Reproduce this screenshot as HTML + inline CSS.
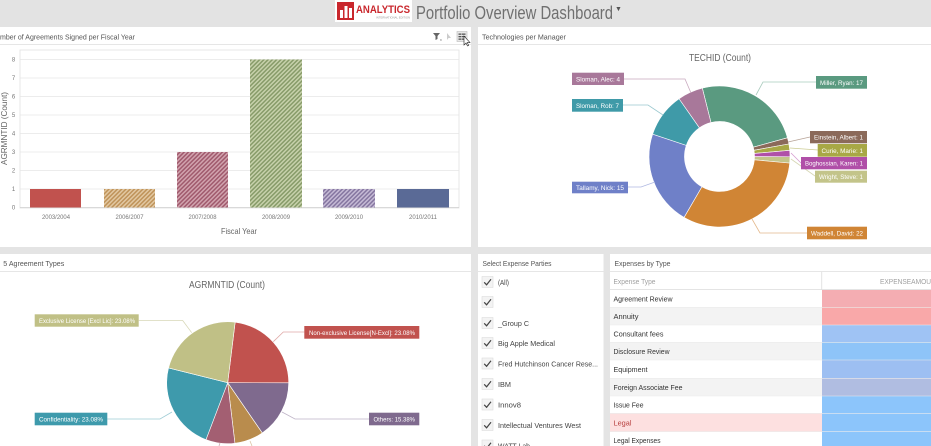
<!DOCTYPE html>
<html><head><meta charset="utf-8"><style>
html,body{margin:0;padding:0;width:931px;height:446px;overflow:hidden;background:#e4e4e4}
svg{display:block;font-family:"Liberation Sans",sans-serif}
</style></head><body>
<svg width="931" height="446" viewBox="0 0 931 446" xmlns="http://www.w3.org/2000/svg">
<defs>
<pattern id="h1" patternUnits="userSpaceOnUse" width="3" height="3" patternTransform="rotate(45)"><rect width="3" height="3" fill="#e2c8a2"/><rect width="1.5" height="3" fill="#bf935a"/></pattern>
<pattern id="h2" patternUnits="userSpaceOnUse" width="3" height="3" patternTransform="rotate(45)"><rect width="3" height="3" fill="#d1a3ae"/><rect width="1.5" height="3" fill="#a05a6d"/></pattern>
<pattern id="h3" patternUnits="userSpaceOnUse" width="3" height="3" patternTransform="rotate(45)"><rect width="3" height="3" fill="#c7d1ab"/><rect width="1.5" height="3" fill="#879b69"/></pattern>
<pattern id="h4" patternUnits="userSpaceOnUse" width="3" height="3" patternTransform="rotate(45)"><rect width="3" height="3" fill="#c5bad5"/><rect width="1.5" height="3" fill="#8576a0"/></pattern>
</defs>

<!-- header -->
<rect x="0" y="0" width="931" height="27" fill="#e3e3e3"/>
<rect x="335" y="0" width="77" height="22" fill="#fff"/>
<rect x="337" y="2" width="17" height="18" fill="#c9272d"/>
<rect x="340" y="10" width="3" height="8" fill="#fff"/>
<rect x="344.5" y="6" width="3" height="12" fill="#fff"/>
<rect x="349" y="8" width="3" height="10" fill="#fff"/>
<text x="356" y="13" font-size="11" font-weight="bold" fill="#c9272d" textLength="54" lengthAdjust="spacingAndGlyphs">ANALYTICS</text>
<text x="376" y="18.5" font-size="3" fill="#999" textLength="34" lengthAdjust="spacingAndGlyphs">INTERNATIONAL EDITION</text>
<text x="416" y="19" font-size="18" fill="#707070" textLength="197" lengthAdjust="spacingAndGlyphs">Portfolio Overview Dashboard</text>
<text x="615" y="11" font-size="7" fill="#555">▼</text>

<!-- panel 1 -->
<rect x="0" y="27" width="471" height="220" fill="#fff"/>
<line x1="0" y1="44.5" x2="471" y2="44.5" stroke="#e6e6e6"/>
<text x="0" y="39.5" font-size="7.6" fill="#555" textLength="135" lengthAdjust="spacingAndGlyphs">mber of Agreements Signed per Fiscal Year</text>
<!-- icons -->
<path d="M433 33 h7 l-2.5 3 v3 l-2 1 v-4 z" fill="#666"/>
<text x="440" y="41" font-size="3.5" fill="#666">x</text>
<path d="M447 33 v7 l1.5-2 h2.5 z" fill="#ccc"/>
<rect x="457" y="31.5" width="10" height="10" fill="#e8e8e8" stroke="#bbb" stroke-width="0.6"/>
<rect x="458.5" y="33.5" width="3" height="1.3" fill="#555"/><rect x="462" y="33.5" width="3.5" height="1.3" fill="#555"/>
<rect x="458.5" y="36" width="3" height="1.3" fill="#555"/><rect x="462" y="36" width="3.5" height="1.3" fill="#555"/>
<rect x="458.5" y="38.5" width="3" height="1.3" fill="#555"/><rect x="462" y="38.5" width="3.5" height="1.3" fill="#555"/>
<path d="M464 36 v9 l2-2 l1.5 3 l1.2-0.6 l-1.5-2.8 h2.8 z" fill="#fff" stroke="#222" stroke-width="0.6"/>

<!-- bar chart grid -->
<rect x="20" y="50" width="439" height="158" fill="none" stroke="#e2e2e2" stroke-width="0.8"/>
<g stroke="#e6e6e6" stroke-width="0.8">
<line x1="20" y1="59.5" x2="459" y2="59.5"/>
<line x1="20" y1="78" x2="459" y2="78"/>
<line x1="20" y1="96.5" x2="459" y2="96.5"/>
<line x1="20" y1="115" x2="459" y2="115"/>
<line x1="20" y1="133.5" x2="459" y2="133.5"/>
<line x1="20" y1="152" x2="459" y2="152"/>
<line x1="20" y1="170.5" x2="459" y2="170.5"/>
<line x1="20" y1="189" x2="459" y2="189"/>
</g>
<line x1="20" y1="207.5" x2="459" y2="207.5" stroke="#d0d0d0" stroke-width="0.8"/>
<g font-size="6" fill="#777" text-anchor="middle">
<text x="13.5" y="61.5">8</text><text x="13.5" y="80">7</text><text x="13.5" y="98.5">6</text><text x="13.5" y="117">5</text>
<text x="13.5" y="135.5">4</text><text x="13.5" y="154">3</text><text x="13.5" y="172.5">2</text><text x="13.5" y="191">1</text><text x="13.5" y="209.5">0</text>
</g>
<text transform="translate(7,128.5) rotate(-90)" font-size="8.2" fill="#666" text-anchor="middle" textLength="73" lengthAdjust="spacingAndGlyphs">AGRMNTID (Count)</text>
<!-- bars -->
<rect x="30" y="189" width="51" height="18.5" fill="#c1524e"/>
<rect x="104" y="189" width="51" height="18.5" fill="url(#h1)"/>
<rect x="177" y="152" width="51" height="55.5" fill="url(#h2)"/>
<rect x="250" y="59.5" width="52" height="148" fill="url(#h3)"/>
<rect x="323" y="189" width="52" height="18.5" fill="url(#h4)"/>
<rect x="397" y="189" width="52" height="18.5" fill="#5a6a96"/>
<g font-size="6" fill="#777" text-anchor="middle">
<text x="56" y="219" textLength="28" lengthAdjust="spacingAndGlyphs">2003/2004</text>
<text x="129.5" y="219" textLength="28" lengthAdjust="spacingAndGlyphs">2006/2007</text>
<text x="202.5" y="219" textLength="28" lengthAdjust="spacingAndGlyphs">2007/2008</text>
<text x="276" y="219" textLength="28" lengthAdjust="spacingAndGlyphs">2008/2009</text>
<text x="349" y="219" textLength="28" lengthAdjust="spacingAndGlyphs">2009/2010</text>
<text x="423" y="219" textLength="28" lengthAdjust="spacingAndGlyphs">2010/2011</text>
</g>
<text x="239" y="234" font-size="8.5" fill="#666" text-anchor="middle" textLength="36" lengthAdjust="spacingAndGlyphs">Fiscal Year</text>

<!-- panel 2 -->
<rect x="478" y="27" width="453" height="220" fill="#fff"/>
<line x1="478" y1="44.5" x2="931" y2="44.5" stroke="#e6e6e6"/>
<text x="482" y="39.5" font-size="7.6" fill="#555" textLength="84" lengthAdjust="spacingAndGlyphs">Technologies per Manager</text>
<text x="720" y="61" font-size="10" fill="#666" text-anchor="middle" textLength="62" lengthAdjust="spacingAndGlyphs">TECHID (Count)</text>
<g stroke="#fff" stroke-width="0.6">
<path fill="#5a9a80" d="M702.33,88.12 A70.5,70.5 0 0 1 787.47,137.78 L753.24,147.20 A35,35 0 0 0 710.97,122.55 Z"/>
<path fill="#8b6a5a" d="M787.47,137.78 A70.5,70.5 0 0 1 788.89,144.01 L753.95,150.30 A35,35 0 0 0 753.24,147.20 Z"/>
<path fill="#a8a845" d="M788.89,144.01 A70.5,70.5 0 0 1 789.73,150.35 L754.37,153.45 A35,35 0 0 0 753.95,150.30 Z"/>
<path fill="#b04fa8" d="M789.73,150.35 A70.5,70.5 0 0 1 790.0,156.75 L754.5,156.62 A35,35 0 0 0 754.37,153.45 Z"/>
<path fill="#c3c48a" d="M790.0,156.75 A70.5,70.5 0 0 1 789.69,163.13 L754.35,159.79 A35,35 0 0 0 754.5,156.62 Z"/>
<path fill="#d08535" d="M789.69,163.13 A70.5,70.5 0 0 1 684.04,217.43 L701.89,186.75 A35,35 0 0 0 754.35,159.79 Z"/>
<path fill="#6f80c8" d="M684.04,217.43 A70.5,70.5 0 0 1 652.64,134.13 L686.31,145.39 A35,35 0 0 0 701.89,186.75 Z"/>
<path fill="#3f9aa8" d="M652.64,134.13 A70.5,70.5 0 0 1 679.06,98.75 L699.42,127.83 A35,35 0 0 0 686.31,145.39 Z"/>
<path fill="#a8789a" d="M679.06,98.75 A70.5,70.5 0 0 1 702.33,88.12 L710.97,122.55 A35,35 0 0 0 699.42,127.83 Z"/>
</g>
<g fill="none" stroke-width="0.8">
<polyline points="624,79 685,79 691,93" stroke="#c9a9bf"/>
<polyline points="623,105 648,105 663,115" stroke="#9bc8cf"/>
<polyline points="628,187 641,187 655,182" stroke="#b0b9e2"/>
<polyline points="816,82 763,82 756,95" stroke="#a8cbbd"/>
<polyline points="810,137 788,142" stroke="#b8a397"/>
<polyline points="818,150 790,148" stroke="#cccc94"/>
<polyline points="801,163 791,153" stroke="#d49bcf"/>
<polyline points="815,176 791,159" stroke="#d6d7b4"/>
<polyline points="807,233 760,233 752,219" stroke="#e4b98c"/>
</g>
<g font-size="6.3" fill="#fff">
<rect x="572" y="72.7" width="52" height="12.3" fill="#a8789a"/><text x="576" y="81.3" textLength="44" lengthAdjust="spacingAndGlyphs">Sloman, Alec: 4</text>
<rect x="572" y="99" width="51" height="12.7" fill="#3f9aa8"/><text x="576" y="107.8" textLength="43" lengthAdjust="spacingAndGlyphs">Sloman, Rob: 7</text>
<rect x="572" y="181.7" width="56" height="11.6" fill="#6f80c8"/><text x="576" y="190" textLength="48" lengthAdjust="spacingAndGlyphs">Tallamy, Nick: 15</text>
<rect x="816" y="76" width="51" height="12.7" fill="#5a9a80"/><text x="820" y="84.8" textLength="43" lengthAdjust="spacingAndGlyphs">Miller, Ryan: 17</text>
<rect x="810" y="131" width="57" height="12.3" fill="#8b6a5a"/><text x="814" y="139.6" textLength="49" lengthAdjust="spacingAndGlyphs">Einstein, Albert: 1</text>
<rect x="817.7" y="144" width="49.3" height="12.7" fill="#a8a845"/><text x="821.5" y="152.8" textLength="41.5" lengthAdjust="spacingAndGlyphs">Curie, Marie: 1</text>
<rect x="801" y="157" width="66" height="12.3" fill="#b04fa8"/><text x="805" y="165.6" textLength="58" lengthAdjust="spacingAndGlyphs">Boghossian, Karen: 1</text>
<rect x="815" y="170.7" width="52" height="12" fill="#c3c48a"/><text x="819" y="179.1" textLength="44" lengthAdjust="spacingAndGlyphs">Wright, Steve: 1</text>
<rect x="807" y="226.7" width="60" height="12.6" fill="#d08535"/><text x="811" y="235.5" textLength="52" lengthAdjust="spacingAndGlyphs">Waddell, David: 22</text>
</g>

<!-- panel 3 -->
<rect x="0" y="254" width="471" height="192" fill="#fff"/>
<line x1="0" y1="271.5" x2="471" y2="271.5" stroke="#e6e6e6"/>
<text x="3.3" y="266" font-size="7.6" fill="#555" textLength="61" lengthAdjust="spacingAndGlyphs">5 Agreement Types</text>
<text x="227" y="288" font-size="10" fill="#666" text-anchor="middle" textLength="76" lengthAdjust="spacingAndGlyphs">AGRMNTID (Count)</text>
<g stroke="#fff" stroke-width="0.6">
<path fill="#c1524e" d="M227.7,382.7 L235.14,322.16 A61,61 0 0 1 288.7,382.8 Z"/>
<path fill="#7f6a8e" d="M227.7,382.7 L288.7,382.8 A61,61 0 0 1 262.25,432.97 Z"/>
<path fill="#b98c4d" d="M227.7,382.7 L262.25,432.97 A61,61 0 0 1 234.92,443.27 Z"/>
<path fill="#a35f72" d="M227.7,382.7 L234.92,443.27 A61,61 0 0 1 205.94,439.69 Z"/>
<path fill="#3e9aac" d="M227.7,382.7 L205.94,439.69 A61,61 0 0 1 168.51,367.94 Z"/>
<path fill="#c0c086" d="M227.7,382.7 L168.51,367.94 A61,61 0 0 1 235.14,322.16 Z"/>
</g>
<g fill="none" stroke-width="0.8">
<polyline points="138.7,320.5 182.7,320.5 191.7,332.7" stroke="#d8d8b8"/>
<polyline points="304.3,332 283.3,332 273.3,341.7" stroke="#e0a9a7"/>
<polyline points="107.3,419 160,419 172,412" stroke="#9fccd5"/>
<polyline points="369,419 295,419 282,412" stroke="#bfb4c7"/>
<polyline points="220,443 219,446" stroke="#d0aab4"/>
<polyline points="250,441 252,446" stroke="#dcc5a6"/>
</g>
<g font-size="6.3" fill="#fff">
<rect x="34.7" y="314.3" width="104" height="12.4" fill="#c0c086"/><text x="39" y="322.8" textLength="96" lengthAdjust="spacingAndGlyphs">Exclusive License [Excl Lic]: 23.08%</text>
<rect x="304.3" y="326" width="115" height="12.7" fill="#c1524e"/><text x="309" y="334.8" textLength="106" lengthAdjust="spacingAndGlyphs">Non-exclusive License[N-Excl]: 23.08%</text>
<rect x="34.7" y="412.7" width="72.6" height="12.6" fill="#3e9aac"/><text x="39" y="421.5" textLength="64" lengthAdjust="spacingAndGlyphs">Confidentiality: 23.08%</text>
<rect x="369" y="412.7" width="50.3" height="12.6" fill="#7f6a8e"/><text x="373.5" y="421.5" textLength="41.5" lengthAdjust="spacingAndGlyphs">Others: 15.38%</text>
</g>

<!-- panel 4 -->
<rect x="478" y="254" width="125.5" height="192" fill="#fff"/>
<line x1="478" y1="271.5" x2="603.5" y2="271.5" stroke="#e6e6e6"/>
<text x="482.5" y="266" font-size="7.4" fill="#555" textLength="69" lengthAdjust="spacingAndGlyphs">Select Expense Parties</text>
<g font-size="7.3" fill="#444">
<g transform="translate(482,276.5)"><rect width="11" height="11" fill="#f3f3f3" stroke="#ddd" stroke-width="0.6"/><path d="M2.2 5.8 L4.6 8.3 L9 2.8" fill="none" stroke="#444" stroke-width="1.2"/></g><text x="498" y="285" textLength="11" lengthAdjust="spacingAndGlyphs">(All)</text>
<g transform="translate(482,296.5)"><rect width="11" height="11" fill="#f3f3f3" stroke="#ddd" stroke-width="0.6"/><path d="M2.2 5.8 L4.6 8.3 L9 2.8" fill="none" stroke="#444" stroke-width="1.2"/></g>
<g transform="translate(482,317.5)"><rect width="11" height="11" fill="#f3f3f3" stroke="#ddd" stroke-width="0.6"/><path d="M2.2 5.8 L4.6 8.3 L9 2.8" fill="none" stroke="#444" stroke-width="1.2"/></g><text x="498" y="326" textLength="31" lengthAdjust="spacingAndGlyphs">_Group C</text>
<g transform="translate(482,337.5)"><rect width="11" height="11" fill="#f3f3f3" stroke="#ddd" stroke-width="0.6"/><path d="M2.2 5.8 L4.6 8.3 L9 2.8" fill="none" stroke="#444" stroke-width="1.2"/></g><text x="498" y="346" textLength="57" lengthAdjust="spacingAndGlyphs">Big Apple Medical</text>
<g transform="translate(482,358)"><rect width="11" height="11" fill="#f3f3f3" stroke="#ddd" stroke-width="0.6"/><path d="M2.2 5.8 L4.6 8.3 L9 2.8" fill="none" stroke="#444" stroke-width="1.2"/></g><text x="498" y="366.5" textLength="100" lengthAdjust="spacingAndGlyphs">Fred Hutchinson Cancer Rese...</text>
<g transform="translate(482,378.5)"><rect width="11" height="11" fill="#f3f3f3" stroke="#ddd" stroke-width="0.6"/><path d="M2.2 5.8 L4.6 8.3 L9 2.8" fill="none" stroke="#444" stroke-width="1.2"/></g><text x="498" y="387" textLength="13" lengthAdjust="spacingAndGlyphs">IBM</text>
<g transform="translate(482,399)"><rect width="11" height="11" fill="#f3f3f3" stroke="#ddd" stroke-width="0.6"/><path d="M2.2 5.8 L4.6 8.3 L9 2.8" fill="none" stroke="#444" stroke-width="1.2"/></g><text x="498" y="407.5" textLength="23" lengthAdjust="spacingAndGlyphs">Innov8</text>
<g transform="translate(482,419.5)"><rect width="11" height="11" fill="#f3f3f3" stroke="#ddd" stroke-width="0.6"/><path d="M2.2 5.8 L4.6 8.3 L9 2.8" fill="none" stroke="#444" stroke-width="1.2"/></g><text x="498" y="428" textLength="83" lengthAdjust="spacingAndGlyphs">Intellectual Ventures West</text>
<g transform="translate(482,440)"><rect width="11" height="11" fill="#f3f3f3" stroke="#ddd" stroke-width="0.6"/><path d="M2.2 5.8 L4.6 8.3 L9 2.8" fill="none" stroke="#444" stroke-width="1.2"/></g><text x="498" y="448.5" textLength="32" lengthAdjust="spacingAndGlyphs">WATT Lab</text>
</g>

<!-- panel 5 -->
<rect x="610" y="254" width="321" height="192" fill="#fff"/>
<line x1="610" y1="271.5" x2="931" y2="271.5" stroke="#e6e6e6"/>
<text x="614.5" y="266" font-size="7.4" fill="#555" textLength="56" lengthAdjust="spacingAndGlyphs">Expenses by Type</text>
<line x1="821.7" y1="271.5" x2="821.7" y2="290" stroke="#e3e3e3"/>
<text x="613.5" y="284" font-size="7.2" fill="#a0a0a0" textLength="42" lengthAdjust="spacingAndGlyphs">Expense Type</text>
<text x="880" y="284" font-size="7" fill="#a0a0a0" textLength="51" lengthAdjust="spacingAndGlyphs">EXPENSEAMOU</text>
<line x1="610" y1="289.8" x2="931" y2="289.8" stroke="#dcdcdc"/>
<!-- rows -->
<rect x="610" y="290" width="212" height="17.3" fill="#fff"/>
<rect x="610" y="307.3" width="212" height="17.7" fill="#f3f3f3"/>
<rect x="610" y="325" width="212" height="17.3" fill="#fff"/>
<rect x="610" y="342.3" width="212" height="17.7" fill="#f3f3f3"/>
<rect x="610" y="360" width="212" height="18.3" fill="#fff"/>
<rect x="610" y="378.3" width="212" height="17.7" fill="#f3f3f3"/>
<rect x="610" y="396" width="212" height="17.3" fill="#fff"/>
<rect x="610" y="413.3" width="212" height="18.4" fill="#fde0e0"/>
<rect x="610" y="431.7" width="212" height="15" fill="#fff"/>
<rect x="822" y="290" width="109" height="17.3" fill="#f4adb2"/>
<rect x="822" y="307.3" width="109" height="17.7" fill="#f9a8a9"/>
<rect x="822" y="325" width="109" height="17.3" fill="#9fc3f4"/>
<rect x="822" y="342.3" width="109" height="17.7" fill="#8ec4f8"/>
<rect x="822" y="360" width="109" height="18.3" fill="#9dbff2"/>
<rect x="822" y="378.3" width="109" height="17.7" fill="#b0bde1"/>
<rect x="822" y="396" width="109" height="17.3" fill="#8cc5fb"/>
<rect x="822" y="413.3" width="109" height="18.4" fill="#8cc5fb"/>
<rect x="822" y="431.7" width="109" height="15" fill="#8cc5fb"/>
<g stroke="#ececec" stroke-width="0.6">
<line x1="610" y1="307.3" x2="931" y2="307.3"/><line x1="610" y1="325" x2="931" y2="325"/>
<line x1="610" y1="342.3" x2="931" y2="342.3"/><line x1="610" y1="360" x2="931" y2="360"/>
<line x1="610" y1="378.3" x2="931" y2="378.3"/><line x1="610" y1="396" x2="931" y2="396"/>
<line x1="610" y1="413.3" x2="931" y2="413.3"/><line x1="610" y1="431.7" x2="931" y2="431.7"/>
</g>
<g font-size="7.3" fill="#333">
<text x="613.5" y="301.5" textLength="59" lengthAdjust="spacingAndGlyphs">Agreement Review</text>
<text x="613.5" y="319" textLength="25" lengthAdjust="spacingAndGlyphs">Annuity</text>
<text x="613.5" y="336.5" textLength="50" lengthAdjust="spacingAndGlyphs">Consultant fees</text>
<text x="613.5" y="354" textLength="56" lengthAdjust="spacingAndGlyphs">Disclosure Review</text>
<text x="613.5" y="372" textLength="34" lengthAdjust="spacingAndGlyphs">Equipment</text>
<text x="613.5" y="390" textLength="69" lengthAdjust="spacingAndGlyphs">Foreign Associate Fee</text>
<text x="613.5" y="407.5" textLength="30" lengthAdjust="spacingAndGlyphs">Issue Fee</text>
<text x="613.5" y="425.5" fill="#b8403f" textLength="18" lengthAdjust="spacingAndGlyphs">Legal</text>
<text x="613.5" y="443" textLength="47" lengthAdjust="spacingAndGlyphs">Legal Expenses</text>
</g>
</svg>
</body></html>
